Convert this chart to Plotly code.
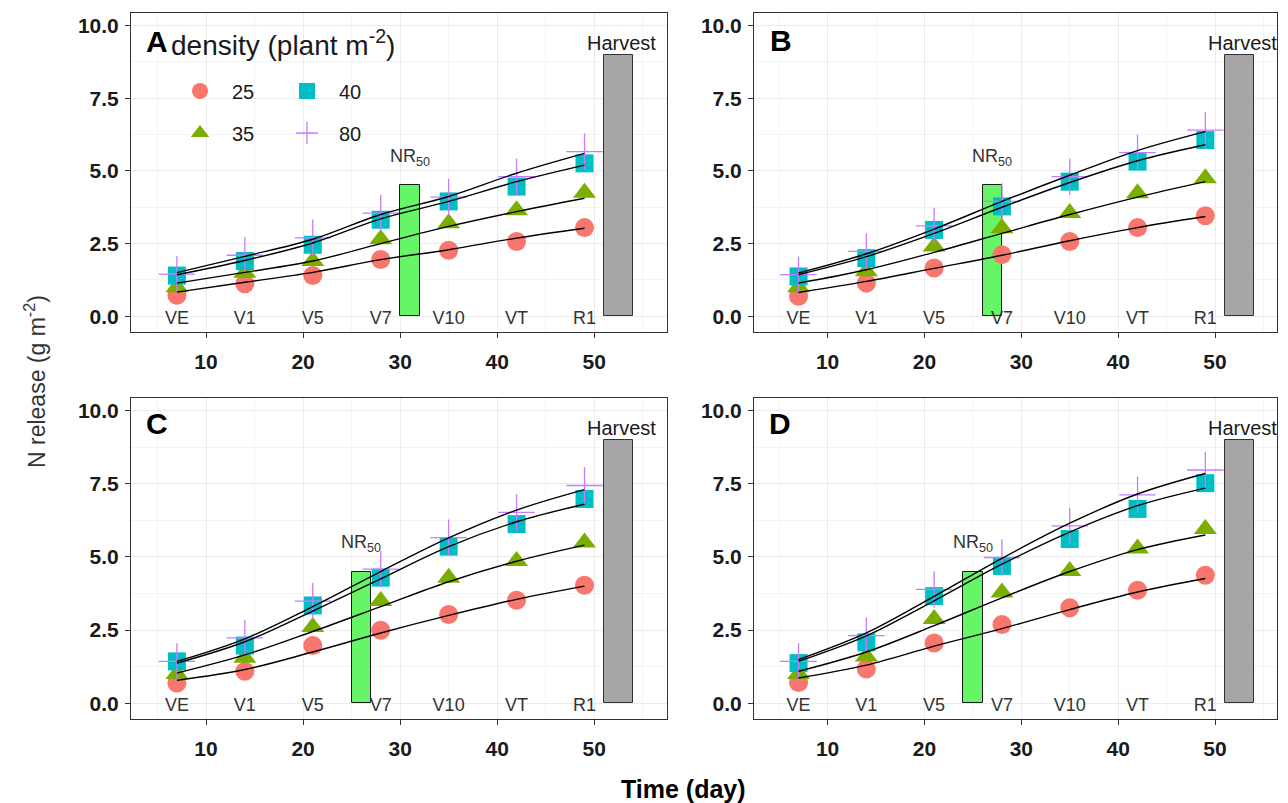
import plotly.graph_objects as go

# ---------------- data ----------------
days = [7, 14, 21, 28, 35, 42, 49]
stages = ["VE", "V1", "V5", "V7", "V10", "VT", "R1"]
densities = ["25", "35", "40", "80"]
panels = ["A", "B", "C", "D"]

# observed N release (g m-2)
obs_A_25 = [0.72, 1.12, 1.40, 1.95, 2.27, 2.57, 3.05]
obs_A_35 = [1.00, 1.50, 1.90, 2.65, 3.20, 3.65, 4.25]
obs_A_40 = [1.40, 1.90, 2.46, 3.32, 3.95, 4.46, 5.26]
obs_A_80 = [1.45, 2.10, 2.70, 3.55, 4.10, 4.80, 5.66]

obs_B_25 = [0.69, 1.14, 1.66, 2.12, 2.57, 3.05, 3.46]
obs_B_35 = [1.00, 1.55, 2.40, 3.03, 3.55, 4.23, 4.75]
obs_B_40 = [1.37, 2.00, 2.97, 3.78, 4.63, 5.32, 6.06]
obs_B_80 = [1.43, 2.23, 3.11, 3.95, 4.80, 5.63, 6.40]

obs_C_25 = [0.69, 1.09, 1.97, 2.49, 3.03, 3.52, 4.03]
obs_C_35 = [1.00, 1.55, 2.60, 3.49, 4.29, 4.86, 5.49]
obs_C_40 = [1.43, 1.97, 3.34, 4.29, 5.35, 6.12, 6.98]
obs_C_80 = [1.43, 2.23, 3.49, 4.58, 5.66, 6.52, 7.44]

obs_D_25 = [0.71, 1.17, 2.06, 2.69, 3.26, 3.86, 4.37]
obs_D_35 = [1.00, 1.60, 2.88, 3.78, 4.52, 5.29, 5.95]
obs_D_40 = [1.37, 2.08, 3.66, 4.69, 5.61, 6.64, 7.52]
obs_D_80 = [1.43, 2.31, 3.89, 4.98, 6.06, 7.12, 7.97]

# fitted curves read at the sampling days
fit_A_25 = [0.83, 1.17, 1.51, 1.95, 2.29, 2.69, 3.03]
fit_A_35 = [1.14, 1.51, 1.90, 2.50, 3.09, 3.60, 4.06]
fit_A_40 = [1.43, 1.92, 2.52, 3.35, 3.95, 4.63, 5.20]
fit_A_80 = [1.50, 2.06, 2.65, 3.50, 4.12, 4.92, 5.60]

fit_B_25 = [0.82, 1.20, 1.65, 2.10, 2.60, 3.05, 3.43]
fit_B_35 = [1.14, 1.60, 2.20, 2.85, 3.50, 4.10, 4.63]
fit_B_40 = [1.43, 2.05, 2.85, 3.75, 4.60, 5.35, 5.90]
fit_B_80 = [1.49, 2.15, 3.00, 3.95, 4.85, 5.70, 6.35]

fit_C_25 = [0.78, 1.15, 1.75, 2.40, 3.00, 3.55, 4.00]
fit_C_35 = [1.03, 1.65, 2.45, 3.30, 4.15, 4.85, 5.40]
fit_C_40 = [1.37, 2.10, 3.15, 4.25, 5.35, 6.20, 6.80]
fit_C_80 = [1.43, 2.20, 3.30, 4.50, 5.65, 6.60, 7.30]

fit_D_25 = [0.86, 1.30, 1.95, 2.55, 3.20, 3.80, 4.26]
fit_D_35 = [1.09, 1.75, 2.65, 3.60, 4.50, 5.25, 5.75]
fit_D_40 = [1.43, 2.30, 3.50, 4.75, 5.85, 6.75, 7.35]
fit_D_80 = [1.49, 2.40, 3.65, 4.95, 6.15, 7.15, 7.85]

obs = {
    "A": [obs_A_25, obs_A_35, obs_A_40, obs_A_80],
    "B": [obs_B_25, obs_B_35, obs_B_40, obs_B_80],
    "C": [obs_C_25, obs_C_35, obs_C_40, obs_C_80],
    "D": [obs_D_25, obs_D_35, obs_D_40, obs_D_80],
}
fit = {
    "A": [fit_A_25, fit_A_35, fit_A_40, fit_A_80],
    "B": [fit_B_25, fit_B_35, fit_B_40, fit_B_80],
    "C": [fit_C_25, fit_C_35, fit_C_40, fit_C_80],
    "D": [fit_D_25, fit_D_35, fit_D_40, fit_D_80],
}

nr50_day = [31, 27, 26, 25]      # centre of NR50 bar per panel
nr50_width = 2
nr50_height = 4.5
harvest_day = 52.5
harvest_width = 3
harvest_height = 9

# ---------------- style ----------------
colors = ["#F8766D", "#7CAE00", "#00BFC4", "#C77CFF"]
symbols = ["circle", "triangle-up", "square", "cross-thin"]
sizes = [19, 20, 18, 26]
legend_of = ["legend", "legend2", "legend", "legend2"]

FONT = "Liberation Sans, Arial, sans-serif"
DARK = "#1a1a1a"

W, H = 1288, 803
dom_x = [(131 / W, 667 / W), (754 / W, 1277 / W), (131 / W, 667 / W), (754 / W, 1277 / W)]
dom_y = [(1 - 332 / H, 1 - 13 / H), (1 - 332 / H, 1 - 13 / H),
         (1 - 719 / H, 1 - 398 / H), (1 - 719 / H, 1 - 398 / H)]
x_ranges = [[2.27, 57.5], [2.4, 56.4], [2.27, 57.5], [2.4, 56.4]]
y_range = [-0.54, 10.43]

fig = go.Figure()

for i, p in enumerate(panels):
    xa = "x" if i == 0 else f"x{i+1}"
    ya = "y" if i == 0 else f"y{i+1}"
    # NR50 bar
    fig.add_trace(go.Bar(x=[nr50_day[i]], y=[nr50_height], width=[nr50_width],
                         marker=dict(color="#66F566", line=dict(color=DARK, width=1)),
                         showlegend=False, xaxis=xa, yaxis=ya, hoverinfo="skip"))
    # Harvest bar
    fig.add_trace(go.Bar(x=[harvest_day], y=[harvest_height], width=[harvest_width],
                         marker=dict(color="#A6A6A6", line=dict(color="#333333", width=1)),
                         showlegend=False, xaxis=xa, yaxis=ya, hoverinfo="skip"))
    # stage labels
    fig.add_trace(go.Scatter(x=days, y=[-0.12] * len(days), mode="text", text=stages,
                             textfont=dict(family=FONT, size=18, color="#333333"),
                             showlegend=False, xaxis=xa, yaxis=ya, hoverinfo="skip"))
    # observed points
    for k, d in enumerate(densities):
        mk = dict(symbol=symbols[k], size=sizes[k], color=colors[k])
        if symbols[k] == "cross-thin":
            mk["line"] = dict(color=colors[k], width=1.3)
        else:
            mk["line"] = dict(width=0)
        fig.add_trace(go.Scatter(x=days, y=obs[p][k], mode="markers", name=d,
                                 marker=mk, legendgroup=d, legend=legend_of[k],
                                 showlegend=(i == 0), xaxis=xa, yaxis=ya))
    # fitted curves
    for k, d in enumerate(densities):
        fig.add_trace(go.Scatter(x=days, y=fit[p][k], mode="lines",
                                 line=dict(color="black", width=1.4, shape="spline", smoothing=1),
                                 showlegend=False, xaxis=xa, yaxis=ya, hoverinfo="skip"))

axis_common = dict(
    showline=True, mirror=True, linecolor="#333333", linewidth=1,
    ticks="outside", ticklen=5, tickcolor="#333333", tickwidth=1,
    showgrid=True, gridcolor="#EBEBEB", gridwidth=1, zeroline=False,
    tickfont=dict(family=FONT, size=21, color=DARK, weight="bold"),
)

layout = dict(
    width=W, height=H, margin=dict(l=0, r=0, t=0, b=0),
    paper_bgcolor="white", plot_bgcolor="white",
    barmode="overlay", bargap=0,
    showlegend=True,
    font=dict(family=FONT, color=DARK),
)
for i in range(4):
    sx = "xaxis" if i == 0 else f"xaxis{i+1}"
    sy = "yaxis" if i == 0 else f"yaxis{i+1}"
    ya = "y" if i == 0 else f"y{i+1}"
    xa = "x" if i == 0 else f"x{i+1}"
    layout[sx] = dict(axis_common, domain=list(dom_x[i]), range=x_ranges[i], anchor=ya,
                      tick0=0, dtick=10, ticklabelstandoff=6,
                      minor=dict(showgrid=True, gridcolor="#F4F4F4", gridwidth=0.6, dtick=5, tick0=0))
    layout[sy] = dict(axis_common, domain=list(dom_y[i]), range=y_range, anchor=xa,
                      tick0=0, dtick=2.5, tickformat=".1f", ticklabelstandoff=2,
                      minor=dict(showgrid=True, gridcolor="#F4F4F4", gridwidth=0.6, dtick=1.25, tick0=0))

legend_common = dict(orientation="h", bgcolor="rgba(0,0,0,0)", borderwidth=0,
                     font=dict(family=FONT, size=20, color=DARK),
                     xanchor="left", yanchor="middle", entrywidth=38, entrywidthmode="pixels",
                     itemwidth=54, itemclick=False)
layout["legend"] = dict(legend_common, x=168 / W, y=1 - 91 / H)
layout["legend2"] = dict(legend_common, x=168 / W, y=1 - 133 / H)

fig.update_layout(**layout)

# annotations
ann = []
letter_pos = [(0.024, 0.91), (0.027, 0.915), (0.024, 0.92), (0.024, 0.92)]
for i, p in enumerate(panels):
    xa = "x" if i == 0 else f"x{i+1}"
    ya = "y" if i == 0 else f"y{i+1}"
    ann.append(dict(text=f"<b>{p}</b>", x=letter_pos[i][0], y=letter_pos[i][1],
                    xref=f"{xa} domain", yref=f"{ya} domain", xanchor="left", yanchor="middle",
                    showarrow=False, font=dict(family=FONT, size=30, color="black")))
    ann.append(dict(text="NR<sub>50</sub>", x=nr50_day[i], y=5.45, xref=xa, yref=ya,
                    xanchor="center", yanchor="middle", showarrow=False,
                    font=dict(family=FONT, size=18, color="#333333")))
    ann.append(dict(text="Harvest", x=harvest_day + 0.3, y=9.4, xref=xa, yref=ya,
                    xanchor="center", yanchor="middle", showarrow=False,
                    font=dict(family=FONT, size=20, color=DARK)))

ann.append(dict(text="density (plant m<sup>-2</sup>)", x=0.07, y=0.905,
                xref="x domain", yref="y domain", xanchor="left", yanchor="middle",
                showarrow=False, font=dict(family=FONT, size=28, color=DARK)))
ann.append(dict(text="<b>Time (day)</b>", x=683 / W, y=1 - 789 / H, xref="paper", yref="paper",
                xanchor="center", yanchor="middle", showarrow=False,
                font=dict(family=FONT, size=25, color="black")))
ann.append(dict(text="N release (g m<sup>-2</sup>)", x=35 / W, y=1 - 382 / H, xref="paper", yref="paper",
                xanchor="center", yanchor="middle", textangle=-90, showarrow=False,
                font=dict(family=FONT, size=23, color="#333333")))
fig.update_layout(annotations=ann)

fig.write_html("out.html")
